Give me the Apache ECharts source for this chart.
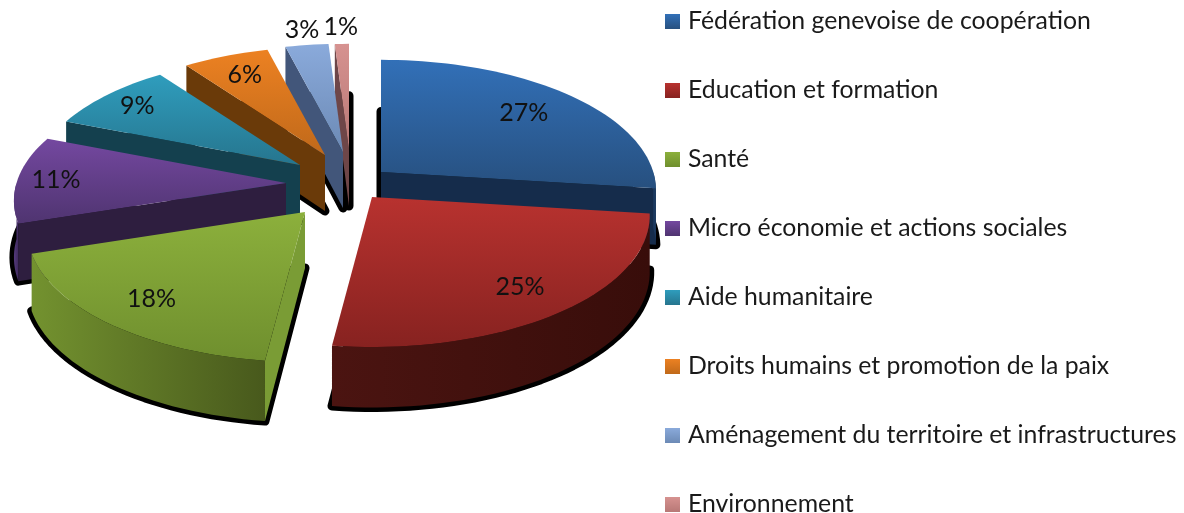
<!DOCTYPE html>
<html>
<head>
<meta charset="utf-8">
<style>
    html, body { margin: 0; background: #fff; }
    #chart { width: 1184px; height: 513px; }
</style>
<script src="https://cdn.jsdelivr.net/npm/echarts@6/dist/echarts.min.js"></script>
</head>
<body>
<div id="chart"></div>
<script>
    const categories = [
        'Fédération genevoise de coopération',
        'Education et formation',
        'Santé',
        'Micro économie et actions sociales',
        'Aide humanitaire',
        'Droits humains et promotion de la paix',
        'Aménagement du territoire et infrastructures',
        'Environnement'
    ]
    const shares = [27, 25, 18, 11, 9, 6, 3, 1]

    // couleurs : face du dessus, bord extérieur, paroi radiale
    const topColors = [['#3270b8', '#27507f'], ['#b8322f', '#872220'], ['#8cb03c', '#6f8f2e'], ['#7448a0', '#4f3470'],
        ['#2f9dbd', '#26758e'], ['#ec8122', '#c0691a'], ['#8aaadb', '#6c8ab5'], ['#d69290', '#b87876']]
    const arcColors = [['#1b3a60', '#1b3a60'], ['#4b1411', '#380d0a'], ['#73922f', '#48591c'], ['#54397c', '#3f2a5c'],
        ['#14404e', '#14404e'], ['#6a3a09', '#6a3a09'], ['#3d506f', '#3d506f'], ['#6a4446', '#6a4446']]
    const wallColors = ['#152c4b', '#3f0f0c', '#7a9c35', '#2e1e3f', '#14404e', '#6a3a09', '#42567a', '#6e4648']

    // mise en page du camembert éclaté
    const center = [345, 180]
    const explode = [[36, -8], [27, 17], [-40, 32], [-59, 3], [-45, -15], [-20, -25], [-2, -28], [4, -30]]
    const sliceRadius = [0.99, 1, 1, 0.98, 0.96, 0.95, 0.95, 0.93]
    const labelRadius = [0.74, 0.8, 0.8, 0.84, 0.8, 0.75, 1.1, 1.1]
    const drawOrder = [7, 6, 5, 4, 3, 0, 2, 1]
    const rx = 275, ry = 129, persp = 0.14, thick = 56

    const grad = (c, horizontal) => new echarts.graphic.LinearGradient(0, 0, horizontal ? 1 : 0, horizontal ? 0 : 1,
        [{offset: 0, color: c[0]}, {offset: 1, color: c[1]}])

    // point du disque (angle depuis le nord, sens horaire) vers l'écran
    let project = (apex, r, deg, down) => {
        const a = deg * Math.PI / 180
        const u = r * Math.sin(a), v = -r * Math.cos(a)
        const w = 1 / (1 - persp * v)
        const y = apex[1] + ry * v * w
        return [apex[0] + rx * u * w, down ? y + thick * (1 + 0.08 * v) : y]
    }
    const total = shares.reduce((a, b) => a + b, 0)

    let renderSlice = index => (params, api) => {
        const value = api.value(0)
        const before = shares.slice(0, index).reduce((a, b) => a + b, 0)
        const start = before / total * 360
        const end = start + value / total * 360
        const mid = (start + end) / 2
        const apex = [center[0] + explode[index][0], center[1] + explode[index][1]]
        const r = sliceRadius[index]
        const z = 10 + drawOrder.indexOf(index) * 5
        const low = [apex[0], apex[1] + thick]
        const children = []

        let arc = (from, to, down) => {
            const pts = []
            const n = Math.max(2, Math.ceil((to - from) / 2))
            for (let i = 0; i <= n; i++) pts.push(project(apex, r, from + (to - from) * i / n, down))
            return pts
        }
        // ombre noire sous la tranche
        children.push({
            type: 'polygon', z2: 1,
            shape: {points: [low].concat(arc(start, end, true))},
            style: {fill: '#000', stroke: '#000', lineWidth: 9, lineJoin: 'round'}
        })
        let wall = (deg, color) => {
            children.push({
                type: 'polygon', z2: z,
                shape: {points: [apex, project(apex, r, deg, false), project(apex, r, deg, true), low]},
                style: {fill: color}
            })
        }
        if (Math.sin(start * Math.PI / 180) < -0.01) wall(start, wallColors[index])
        if (Math.sin(end * Math.PI / 180) > 0.01) wall(end, wallColors[index])

        // bord extérieur, seulement la partie tournée vers nous
        const a0 = Math.max(start, 90), a1 = Math.min(end, 270)
        if (a1 > a0) {
            children.push({
                type: 'polygon', z2: z + 1,
                shape: {points: arc(a0, a1, false).concat(arc(a0, a1, true).reverse())},
                style: {fill: grad(arcColors[index], true)}
            })
        }
        // face du dessus
        children.push({
            type: 'polygon', z2: z + 2,
            shape: {points: [apex].concat(arc(start, end, false))},
            style: {fill: grad(topColors[index])}
        })
        const pos = project(apex, labelRadius[index], mid, false)
        children.push({
            type: 'text', z2: 100,
            style: {
                x: pos[0], y: pos[1], text: value + '%', fill: '#111',
                font: '25px Lato', textAlign: 'center', textVerticalAlign: 'middle'
            }
        })
        return {type: 'group', children}
    }

    const chart = echarts.init(document.getElementById('chart'), null, {renderer: 'canvas'})
    chart.setOption({
        animation: false,
        legend: {
            left: 665, top: 9, padding: 0, height: 560,
            orient: 'vertical',
            selectedMode: false,
            itemWidth: 15, itemHeight: 15, itemGap: 44,
            icon: 'rect',
            data: categories,
            textStyle: {fontFamily: 'Lato', fontSize: 24.8, color: '#1a1a1a', padding: [0, 0, 0, 3], lineHeight: 24}
        },
        series: categories.map((name, i) => ({
            type: 'custom',
            name,
            coordinateSystem: 'none',
            renderItem: renderSlice(i),
            itemStyle: {color: grad(topColors[i])},
            data: [shares[i]]
        }))
    })
</script>
</body>
</html>
